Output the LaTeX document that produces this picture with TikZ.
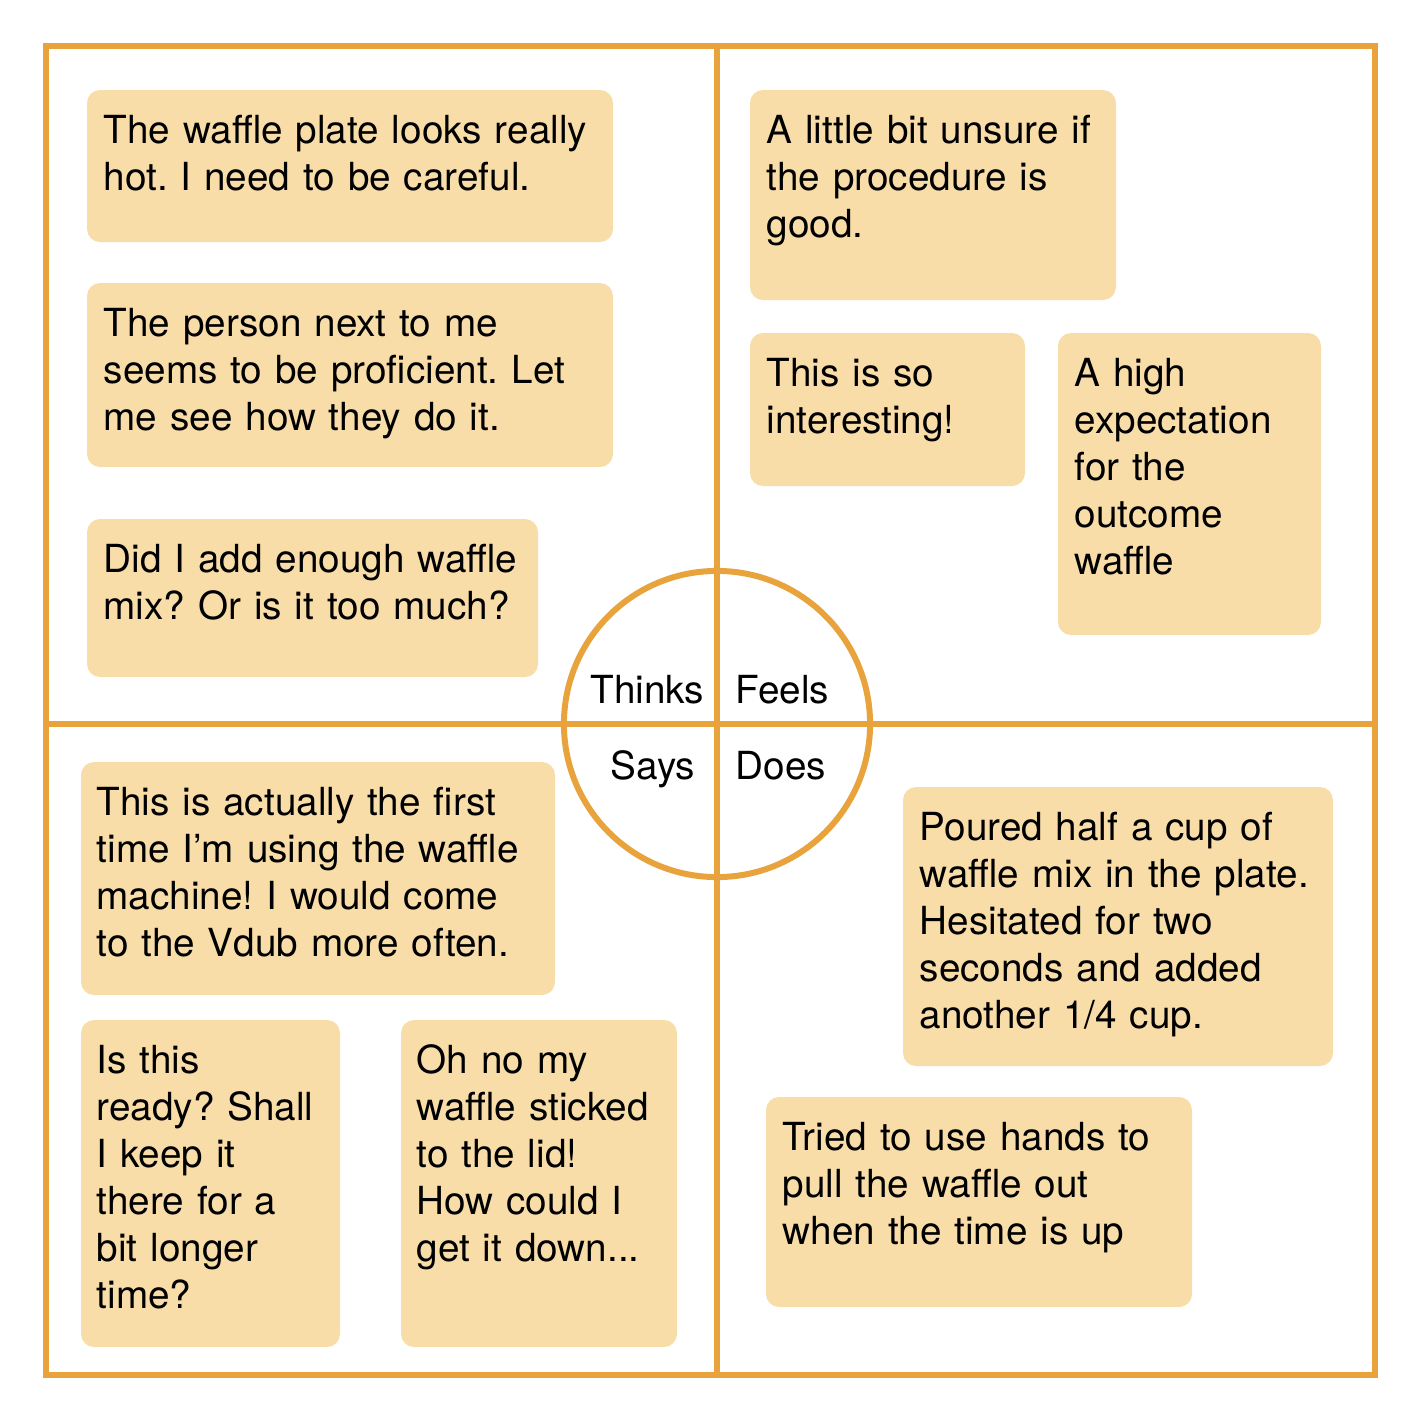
\documentclass[tikz,border=0pt]{standalone}
\usepackage{fontspec}
\setmainfont{TeX Gyre Heros}
\frenchspacing
\definecolor{mapline}{HTML}{E8A33D}
\definecolor{notefill}{HTML}{F8DDA8}
\begin{document}
\begin{tikzpicture}[x=0.01cm, y=-0.01cm,
    frame/.style={draw=mapline, line width=0.06cm},
    note/.style={fill=notefill, rounded corners=0.13cm},
    txt/.style={anchor=base west, inner sep=0pt, text width=6cm, align=left,
        font=\fontsize{11pt}{13.37pt}\selectfont},
    lbl/.style={inner sep=0pt, font=\fontsize{11pt}{13.37pt}\selectfont}]
    \useasboundingbox (0,0) rectangle (1423,1423);
    % Quadrants and centre circle
    \draw[frame] (46,46) rectangle (1375,1375);
    \draw[frame] (717,46) -- (717,1375);
    \draw[frame] (46,724) -- (1375,724);
    \draw[frame] (717,724) circle[radius=1.53cm];
    \node[lbl, anchor=base east] (thinks) at (705,703) {Thinks};
    \node[lbl, anchor=base west] (feels) at (735,703) {Feels};
    \node[lbl, anchor=base east] (says) at (696,779) {Says};
    \node[lbl, anchor=base west] (does) at (735,779) {Does};
    % Thinks
    \fill[note] (87,90) rectangle (613,242);
    \node[txt] (T1) at (103,143) {The waffle plate looks really\\hot. I need to be careful.};
    \fill[note] (87,283) rectangle (613,467);
    \node[txt] (T2) at (103,336) {The person next to me\\seems to be proficient. Let\\me see how they do it.};
    \fill[note] (87,519) rectangle (538,677);
    \node[txt] (T3) at (103,572) {Did I add enough waffle\\mix? Or is it too much?};
    % Feels
    \fill[note] (750,90) rectangle (1116,300);
    \node[txt] (F1) at (766,143) {A little bit unsure if\\the procedure is\\good.};
    \fill[note] (750,333) rectangle (1025,486);
    \node[txt] (F2) at (766,386) {This is so\\interesting!};
    \fill[note] (1058,333) rectangle (1321,635);
    \node[txt] (F3) at (1074,386) {A high\\expectation\\for the\\outcome\\waffle};
    % Says
    \fill[note] (81,762) rectangle (555,995);
    \node[txt] (S1) at (96,815) {This is actually the first\\time I’m using the waffle\\machine! I would come\\to the Vdub more often.};
    \fill[note] (81,1020) rectangle (340,1347);
    \node[txt] (S2) at (96,1073) {Is this\\ready? Shall\\I keep it\\there for a\\bit longer\\time?};
    \fill[note] (401,1020) rectangle (677,1347);
    \node[txt] (S3) at (416,1073) {Oh no my\\waffle sticked\\to the lid!\\How could I\\get it down...};
    % Does
    \fill[note] (903,787) rectangle (1333,1066);
    \node[txt] (D1) at (919,840) {Poured half a cup of\\waffle mix in the plate.\\Hesitated for two\\seconds and added\\another 1/4 cup.};
    \fill[note] (766,1097) rectangle (1192,1307);
    \node[txt] (D2) at (782,1150) {Tried to use hands to\\pull the waffle out\\when the time is up};
\end{tikzpicture}
\end{document}
